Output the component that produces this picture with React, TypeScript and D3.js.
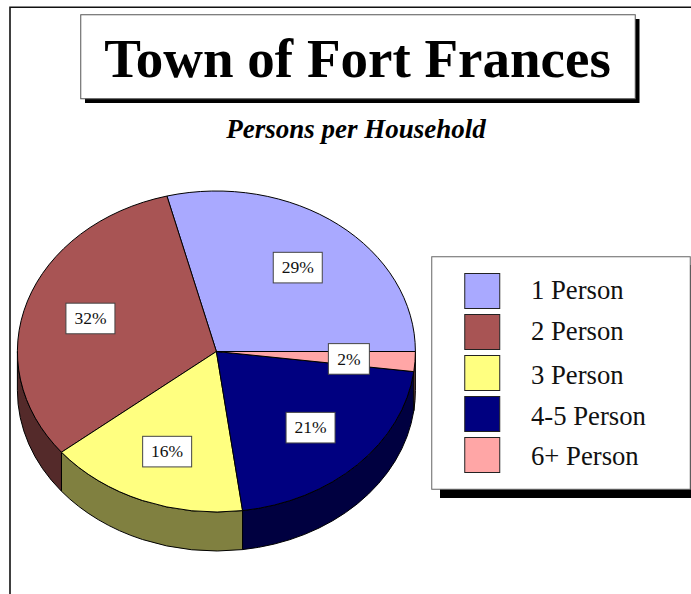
import React from "react";
import * as d3 from "d3";

const categories = ["1 Person", "2 Person", "3 Person", "4-5 Person", "6+ Person"];
const shares = [29, 31.8, 16.3, 20.9, 2];
const faceColors = ["#A9A9FF", "#A85454", "#FFFF80", "#000080", "#FFA6A6"];
const wallColors = ["#535380", "#542A2A", "#808040", "#000040", "#805353"];
const titleText = "Town of Fort Frances";
const subtitleText = "Persons per Household";

const W = 691, H = 594;
const cx = 216.4, cy = 351.5, rx = 199, ry = 160.5, depth = 39;
const serif = "'Liberation Serif', serif";

const pie = d3.pie<number>().sort(null).startAngle(Math.PI / 2).endAngle(Math.PI / 2 - 2 * Math.PI);
const arcs = pie(shares);
const xAt = (a: number, k = 1) => cx + rx * k * Math.sin(a);
const yAt = (a: number, k = 1) => cy - ry * k * Math.cos(a);

const facePath = (i: number) => {
  const hi = arcs[i].startAngle, lo = arcs[i].endAngle;
  const large = Math.abs(hi - lo) > Math.PI ? 1 : 0;
  return `M${cx},${cy}L${xAt(hi)},${yAt(hi)}A${rx},${ry} 0 ${large} 0 ${xAt(lo)},${yAt(lo)}Z`;
};

// part of a slice's rim on the front half of the ellipse
const wallPath = (i: number) => {
  const norm = (a: number) => ((a % (2 * Math.PI)) + 2 * Math.PI) % (2 * Math.PI);
  const lo = arcs[i].endAngle, hi = arcs[i].startAngle;
  const start = norm(lo), end = start + (hi - lo);
  const s = Math.max(start, Math.PI / 2), e = Math.min(end, 1.5 * Math.PI);
  if (e <= s) return "";
  return `M${xAt(s)},${yAt(s)}A${rx},${ry} 0 0 1 ${xAt(e)},${yAt(e)}L${xAt(e)},${yAt(e) + depth}A${rx},${ry} 0 0 0 ${xAt(s)},${yAt(s) + depth}Z`;
};

const legendRow = d3.scalePoint<string>().domain(categories).range([273.5, 437.5]);
const legendBase = [298.5, 339.5, 383.5, 424.5, 464.5];

const labelW = (s: number) => (s < 10 ? 41 : 49);

export default function App() {
  return (
    <svg width={W} height={H} viewBox={`0 0 ${W} ${H}`} style={{ position: "absolute", left: 0, top: 0, display: "block", background: "#fff" }}>
      <path d="M10,594V7.25H691" fill="none" stroke="#111" strokeWidth={1.6} />

      <rect x={85} y={19} width={554.5} height={84} fill="#000" />
      <rect x={80.75} y={14.75} width={554.5} height={84} fill="#fff" stroke="#555" strokeWidth={1} />
      <text x={357.5} y={76.5} textAnchor="middle" fontFamily={serif} fontWeight="bold" fontSize={55}>{titleText}</text>
      <text x={356} y={138} textAnchor="middle" fontFamily={serif} fontWeight="bold" fontStyle="italic" fontSize={27}>{subtitleText}</text>

      {categories.map((c, i) => {
        const d = wallPath(i);
        return d ? <path key={c} d={d} fill={wallColors[i]} stroke="#000" strokeWidth={1} /> : null;
      })}
      {categories.map((c, i) => (
        <path key={c} d={facePath(i)} fill={faceColors[i]} stroke="#000" strokeWidth={1} />
      ))}

      {arcs.map((a, i) => {
        const mid = (a.startAngle + a.endAngle) / 2;
        const lx = xAt(mid, 0.667), ly = yAt(mid, 0.667) + 0.7;
        const w = labelW(a.value);
        return (
          <g key={i}>
            <rect x={lx - w / 2} y={ly - 15.3} width={w} height={30.6} fill="#fff" stroke="#444" strokeWidth={1} />
            <text x={lx} y={ly + 5.7} textAnchor="middle" fontFamily={serif} fontSize={17.5} fill="#111">{Math.round(a.value)}%</text>
          </g>
        );
      })}

      <rect x={440} y={265} width={251} height={233} fill="#000" />
      <rect x={431.75} y={256.75} width={258.5} height={232.5} fill="#fff" stroke="#666" strokeWidth={1} />
      {categories.map((c, i) => (
        <g key={c}>
          <rect x={464.75} y={legendRow(c)!} width={35} height={35} fill={faceColors[i]} stroke="#222" strokeWidth={1} />
          <text x={531} y={legendBase[i]} fontFamily={serif} fontSize={26.7} fill="#111">{c}</text>
        </g>
      ))}
    </svg>
  );
}
